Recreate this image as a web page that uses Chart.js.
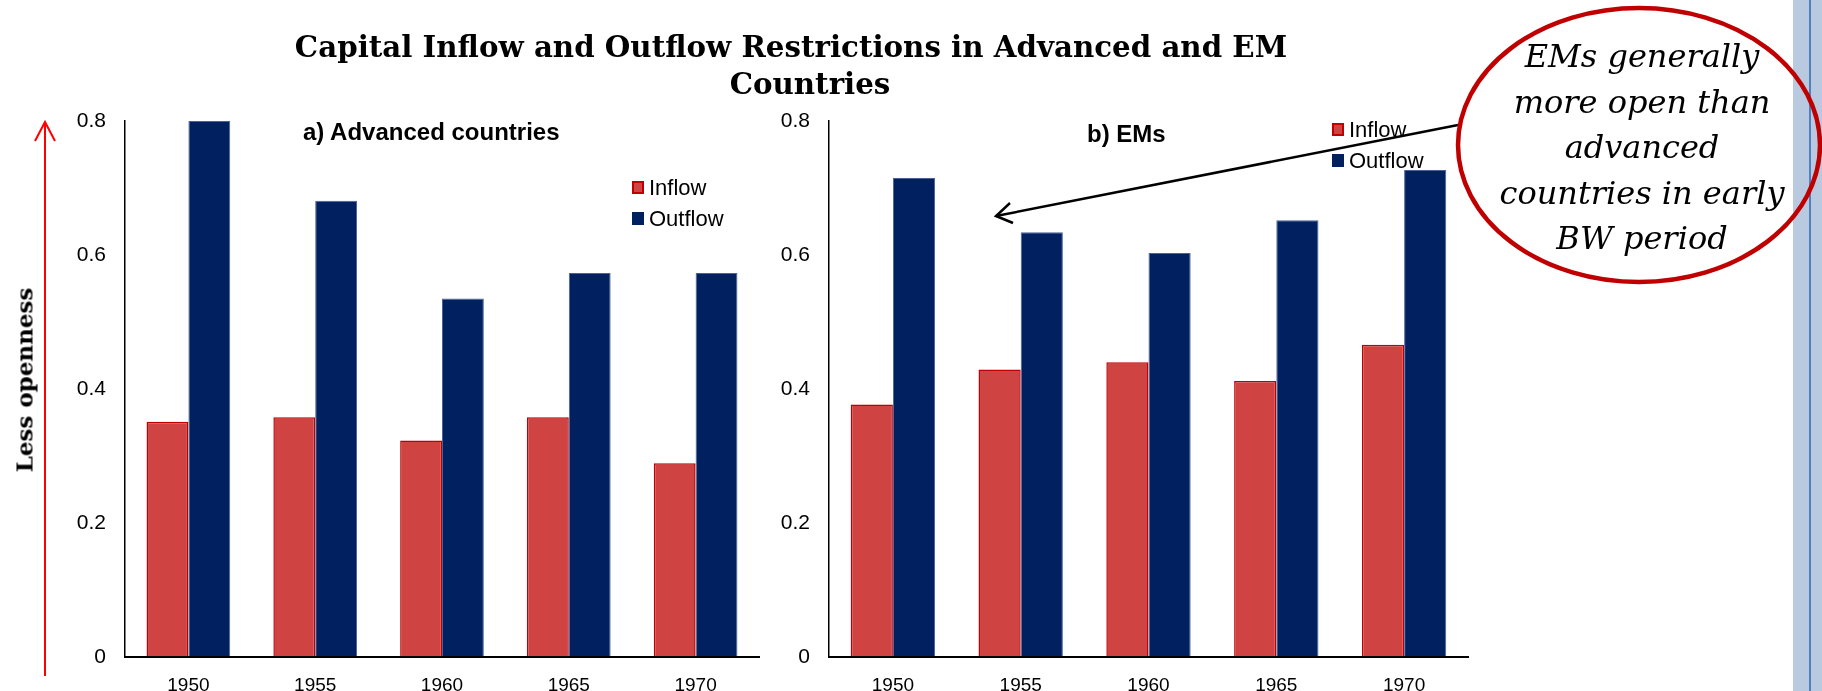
<!DOCTYPE html>
<html>
<head>
<meta charset="utf-8">
<script src="https://cdn.jsdelivr.net/npm/chart.js@4.4.1/dist/chart.umd.min.js"></script>
<style>
    body { margin: 0; width: 1822px; height: 691px; position: relative; overflow: hidden; background: #fff; }
    canvas { position: absolute; left: 0; top: 0; }
    .title { position: absolute; left: 310px; width: 1000px; top: 28px; text-align: center;
             font: bold 29.3px "DejaVu Serif", serif; line-height: 37px; color: #000; white-space: nowrap; }
    .title span { position: relative; left: -19px; }
    .subtitle { position: absolute; font: bold 24px "Liberation Sans", Arial, sans-serif; color: #000; white-space: nowrap; }
    .ylabel { position: absolute; left: 24px; top: 380px; transform: translate(-50%, -50%) rotate(-90deg);
              font: bold 23px "DejaVu Serif", serif; color: #000; white-space: nowrap; }
    .legend { position: absolute; font: 22px "Liberation Sans", Arial, sans-serif; color: #000; }
    .legend div { position: relative; height: 31px; line-height: 31px; padding-left: 17px; white-space: nowrap; }
    .legend span { position: absolute; left: 0; top: 9px; width: 12px; height: 13px; box-sizing: border-box; }
    .note { position: absolute; left: 1492px; width: 300px; top: 34px; text-align: center;
            font: italic 32px "DejaVu Serif", serif; line-height: 45.5px; color: #000; white-space: nowrap; }
    .sidebar { position: absolute; left: 1793px; top: 0; width: 29px; height: 691px; background: #b9c9e0; }
    .sidebar div { position: absolute; left: 16px; top: 0; width: 2px; height: 691px; background: #4f81bd; }
    svg { position: absolute; left: 0; top: 0; }
</style>
</head>
<body>
<div class="sidebar"><div></div></div>

<canvas id="advChart" width="1822" height="691"></canvas>
<canvas id="emChart" width="1822" height="691"></canvas>

<div class="title"><span>Capital Inflow and Outflow Restrictions in Advanced and EM</span><br>Countries</div>
<div class="subtitle" style="left:303px; top:118px;">a) Advanced countries</div>
<div class="subtitle" style="left:1087px; top:120px;">b) EMs</div>
<div class="ylabel">Less openness</div>
<div class="legend" id="advLegend" style="left:632px; top:172px;"></div>
<div class="legend" id="emLegend" style="left:1332px; top:114px;"></div>

<svg width="1822" height="691">
    <!-- red "less openness" arrow -->
    <line x1="45" y1="676" x2="45" y2="122" stroke="#ff0000" stroke-width="2"/>
    <polyline points="35,141 45,122 55,141" fill="none" stroke="#ff0000" stroke-width="2"/>
    <!-- callout arrow -->
    <line x1="1458" y1="125" x2="996" y2="216" stroke="#000" stroke-width="2.5"/>
    <polyline points="1013,223 996,216 1010,203" fill="none" stroke="#000" stroke-width="2.5"/>
    <ellipse cx="1639" cy="145" rx="181" ry="137" fill="none" stroke="#c00000" stroke-width="4.5"/>
</svg>

<div class="note">EMs generally<br>more open than<br>advanced<br>countries in early<br>BW period</div>

<script>
// Category axis
const years = ["1950", "1955", "1960", "1965", "1970"];
const seriesNames = ["Inflow", "Outflow"];

// a) Advanced countries
const advInflow = [0.351, 0.358, 0.323, 0.358, 0.289];
const advOutflow = [0.800, 0.681, 0.535, 0.573, 0.573];

// b) EMs
const emInflow = [0.377, 0.429, 0.440, 0.412, 0.466];
const emOutflow = [0.715, 0.634, 0.603, 0.652, 0.727];

// Value axis
const yTicks = [0, 0.2, 0.4, 0.6, 0.8];
const yTickLabels = ["0", "0.2", "0.4", "0.6", "0.8"];

const colors = {
    inflow: "#d04343",
    inflowBorder: "#c00000",
    outflow: "#002060",
    outflowBorder: "#4a6296",
    axis: "#000000"
};

const Y_AXIS_WIDTH = 60;
const X_AXIS_HEIGHT = 34;

function buildLegend(elId) {
    const el = document.getElementById(elId);
    const fills = [colors.inflow, colors.outflow];
    const borders = [colors.inflowBorder, colors.outflow];
    seriesNames.forEach((name, i) => {
        const row = document.createElement("div");
        const box = document.createElement("span");
        box.style.background = fills[i];
        box.style.border = "2px solid " + borders[i];
        row.appendChild(box);
        row.appendChild(document.createTextNode(name));
        el.appendChild(row);
    });
}

// One panel of grouped bars, placed on the page through layout padding
function makePanel(canvasId, inflow, outflow, left, right) {
    const ctx = document.getElementById(canvasId).getContext("2d");
    return new Chart(ctx, {
        type: "bar",
        data: {
            labels: years,
            datasets: [
                {
                    label: seriesNames[0],
                    data: inflow,
                    backgroundColor: colors.inflow,
                    borderColor: colors.inflowBorder,
                    borderWidth: 1.5,
                    categoryPercentage: 0.66,
                    barPercentage: 1.0
                },
                {
                    label: seriesNames[1],
                    data: outflow,
                    backgroundColor: colors.outflow,
                    borderColor: colors.outflowBorder,
                    borderWidth: 1,
                    categoryPercentage: 0.66,
                    barPercentage: 1.0
                }
            ]
        },
        options: {
            responsive: false,
            animation: false,
            layout: {
                padding: { left: left - Y_AXIS_WIDTH, right: 1822 - right, top: 121, bottom: 691 - 657 - X_AXIS_HEIGHT }
            },
            plugins: {
                legend: { display: false },
                title: { display: false },
                tooltip: { enabled: false }
            },
            scales: {
                x: {
                    grid: { display: false, drawTicks: false },
                    border: { display: true, color: colors.axis, width: 2, z: 1 },
                    ticks: {
                        color: "#000",
                        padding: 17,
                        font: { family: "'Liberation Sans', Arial, sans-serif", size: 19 }
                    },
                    afterFit: function(scale) {
                        scale.height = X_AXIS_HEIGHT;
                    }
                },
                y: {
                    min: 0,
                    max: 0.8,
                    grid: { display: false, drawTicks: false },
                    border: { display: true, color: colors.axis, width: 1.5, z: 1 },
                    afterBuildTicks: function(scale) {
                        scale.ticks = yTicks.map(v => ({ value: v }));
                    },
                    ticks: {
                        color: "#000",
                        padding: 19,
                        font: { family: "'Liberation Sans', Arial, sans-serif", size: 21 },
                        callback: function(value, index) {
                            return yTickLabels[index];
                        }
                    },
                    afterFit: function(scale) {
                        scale.width = Y_AXIS_WIDTH;
                    }
                }
            }
        }
    });
}

makePanel("advChart", advInflow, advOutflow, 125, 759);
makePanel("emChart", emInflow, emOutflow, 829, 1468);
buildLegend("advLegend");
buildLegend("emLegend");
</script>
</body>
</html>
